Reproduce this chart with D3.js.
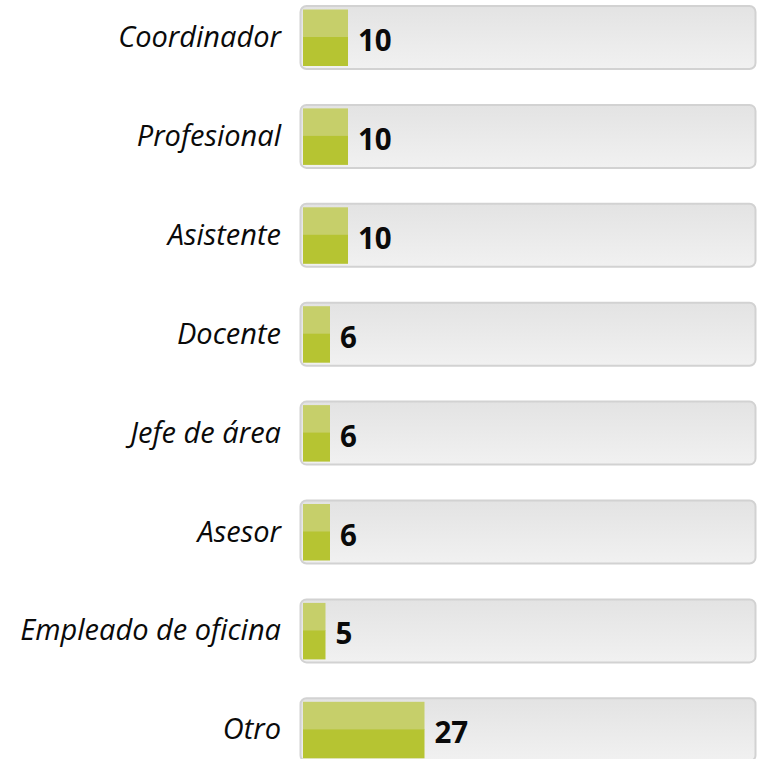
<!DOCTYPE html>
<html><head><meta charset="utf-8">
<script src="https://cdn.jsdelivr.net/npm/d3@7"></script>
<style>html,body{margin:0;padding:0;background:#fff;}</style>
</head><body>
<svg id="chart" width="760" height="759"></svg>
<script>
const categories = ["Coordinador","Profesional","Asistente","Docente","Jefe de área","Asesor","Empleado de oficina","Otro"];
const values = [10,10,10,6,6,6,5,27];

const svg = d3.select("#chart");
const defs = svg.append("defs");
const tg = defs.append("linearGradient").attr("id","track").attr("x1",0).attr("y1",0).attr("x2",0).attr("y2",1);
tg.append("stop").attr("offset","0%").attr("stop-color","#e3e3e3");
tg.append("stop").attr("offset","100%").attr("stop-color","#f1f1f1");

const y = d3.scalePoint().domain(categories).range([5, 5 + 98.9*7]);
const x = d3.scaleLinear().domain([0,100]).range([303, 753]);

const rows = svg.selectAll("g.row").data(categories.map((c,i)=>({c, v: values[i]}))).join("g").attr("class","row");

rows.append("rect")
  .attr("x", 300.5).attr("y", d=>y(d.c)+1)
  .attr("width", 455).attr("height", 63)
  .attr("rx", 6).attr("ry", 6)
  .attr("fill","url(#track)").attr("stroke","#d2d2d2").attr("stroke-width",2);

rows.append("rect")
  .attr("x", x(0)).attr("y", d=>y(d.c)+4.5)
  .attr("width", d=>x(d.v)-x(0)).attr("height", 28)
  .attr("fill","#c6cf6a");
rows.append("rect")
  .attr("x", x(0)).attr("y", d=>y(d.c)+32)
  .attr("width", d=>x(d.v)-x(0)).attr("height", 29)
  .attr("fill","#b6c432");

rows.append("text")
  .attr("x", d=>x(d.v)+10).attr("y", d=>y(d.c)+46)
  .attr("font-family","'Open Sans', sans-serif").attr("font-weight","bold").attr("font-size",29.5)
  .attr("fill","#0a0a0a")
  .text(d=>d.v);

rows.append("text")
  .attr("x", 281).attr("y", d=>y(d.c)+42)
  .attr("text-anchor","end")
  .attr("font-family","'Open Sans', sans-serif").attr("font-style","italic").attr("font-size",29)
  .attr("fill","#0a0a0a")
  .text(d=>d.c);
</script>
</body></html>
